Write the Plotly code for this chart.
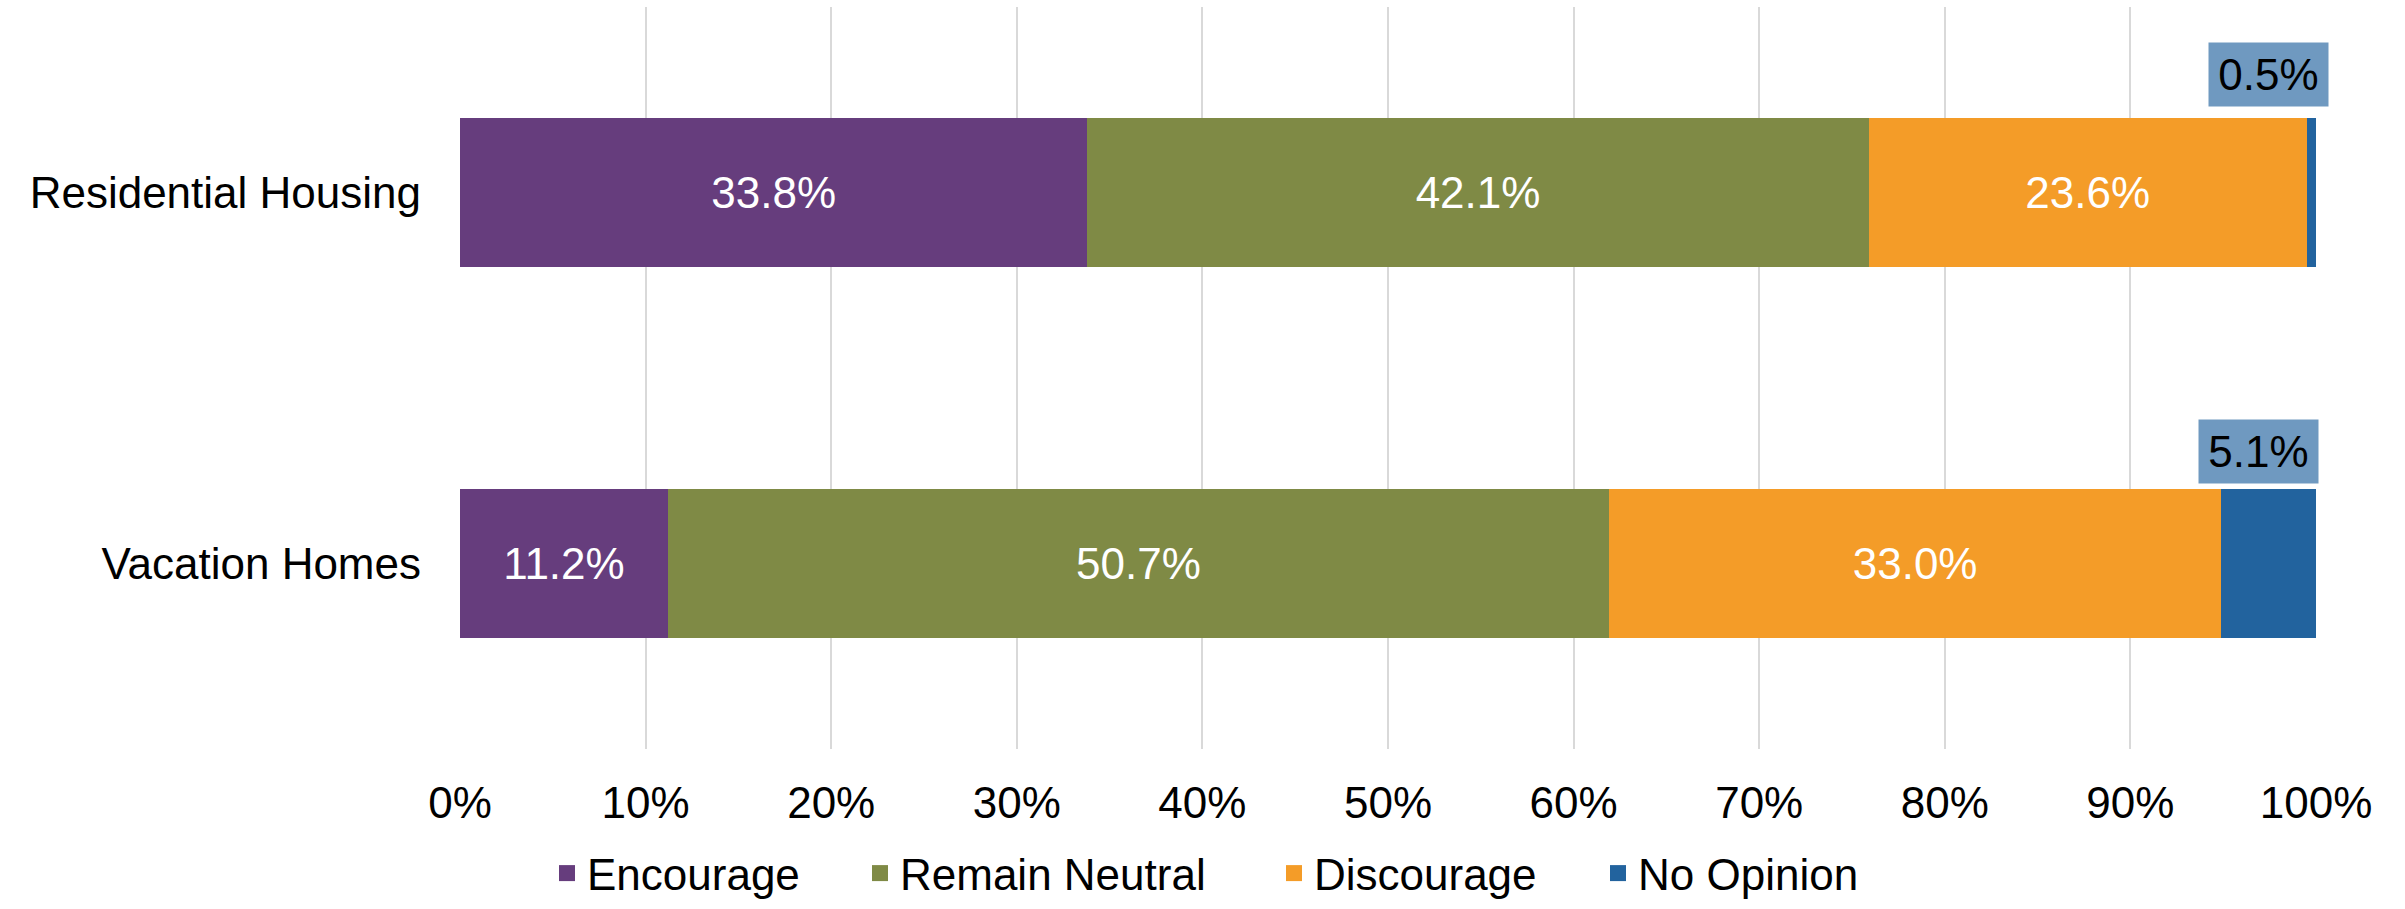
import plotly.graph_objects as go

categories = ["Residential Housing", "Vacation Homes"]
series_names = ["Encourage", "Remain Neutral", "Discourage", "No Opinion"]
encourage = [33.8, 11.2]
remain_neutral = [42.1, 50.7]
discourage = [23.6, 33.0]
no_opinion = [0.5, 5.1]
tick_vals = [0, 10, 20, 30, 40, 50, 60, 70, 80, 90, 100]
tick_text = [f"{v}%" for v in tick_vals]

colors = ["#663d7d", "#7f8a45", "#f49c28", "#22639e"]
FONT = "Liberation Sans, Arial, sans-serif"
W, H = 2405, 909

fig = go.Figure()
all_series = [encourage, remain_neutral, discourage, no_opinion]
for name, vals, col in zip(series_names, all_series, colors):
    show_text = name != "No Opinion"
    fig.add_trace(go.Bar(
        y=categories, x=vals, name=name, orientation="h",
        marker=dict(color=col, line=dict(width=0)),
        texttemplate="%{x:.1f}%" if show_text else None,
        textposition="inside" if show_text else "none",
        insidetextanchor="middle",
        textfont=dict(color="white", size=44, family=FONT),
        constraintext="none",
        showlegend=False,
    ))

# legend entries (one legend per entry so spacing can follow the reference)
legend_centers = [567, 880, 1294, 1618]
legend_layouts = {}
for i, (name, col) in enumerate(zip(series_names, colors)):
    lname = "legend" if i == 0 else f"legend{i + 1}"
    fig.add_trace(go.Scatter(
        x=[None], y=[None], mode="markers", name=name,
        marker=dict(symbol="square", size=16, color=col),
        showlegend=True, legend=lname,
    ))
    legend_layouts[lname] = dict(
        orientation="h", xref="container", yref="container",
        x=(legend_centers[i] - 20) / W, xanchor="left",
        y=-0.008, yanchor="bottom",
        font=dict(size=44, family=FONT, color="black"),
        bgcolor="rgba(0,0,0,0)", itemsizing="trace",
    )

# callout labels for No Opinion, placed above the bar end
shifts = [(-48, 118), (-58, 112)]
for i, cat in enumerate(categories):
    total = encourage[i] + remain_neutral[i] + discourage[i] + no_opinion[i]
    fig.add_annotation(
        x=total, y=cat, xref="x", yref="y",
        text=f"{no_opinion[i]:.1f}%", showarrow=False,
        xanchor="center", yanchor="middle",
        xshift=shifts[i][0], yshift=shifts[i][1],
        width=107, height=51,
        font=dict(color="black", size=44, family=FONT),
        bgcolor="rgba(34,99,158,0.65)", borderpad=6,
    )

fig.update_layout(
    barmode="stack",
    bargap=0.6,
    width=W, height=H,
    margin=dict(l=460, r=89, t=7, b=160),
    paper_bgcolor="white", plot_bgcolor="white",
    font=dict(family=FONT, size=44, color="black"),
    showlegend=True,
    xaxis=dict(
        range=[0, 100], tickvals=tick_vals, ticktext=tick_text,
        showgrid=True, gridcolor="#d9d9d9", gridwidth=2,
        zeroline=False, showline=False, ticks="",
        ticklabelstandoff=24, automargin=False,
        tickfont=dict(size=44, family=FONT, color="black"),
    ),
    yaxis=dict(
        categoryorder="array", categoryarray=categories, autorange="reversed",
        showgrid=False, zeroline=False, showline=False, ticks="",
        ticklabelstandoff=38, automargin=False,
        tickfont=dict(size=44, family=FONT, color="black"),
    ),
    **legend_layouts,
)

fig.write_html("out.html", config={"displayModeBar": False},
               post_script="document.body.style.margin='0';")
